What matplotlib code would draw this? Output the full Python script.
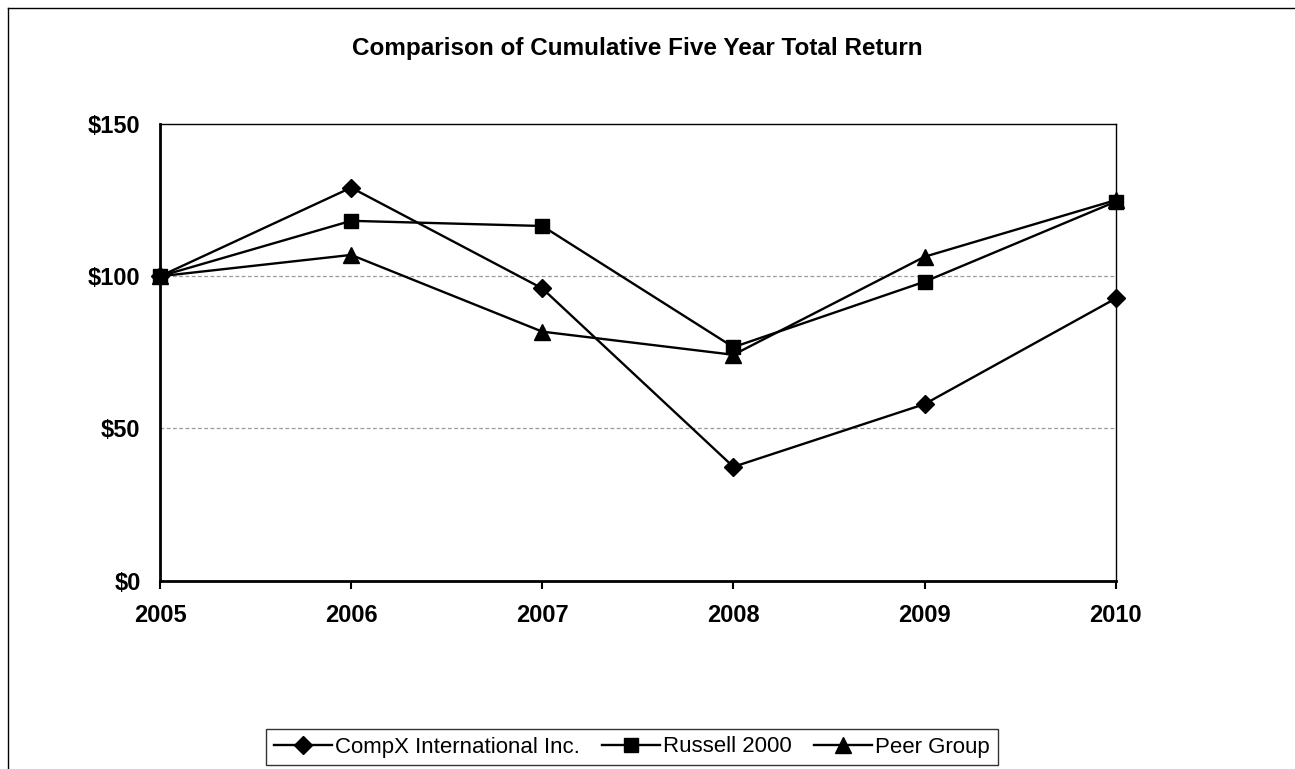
import matplotlib
matplotlib.use("Agg")
import matplotlib.pyplot as plt
from matplotlib.lines import Line2D

plt.rcParams["font.family"] = ["Liberation Sans", "DejaVu Sans"]

years = [2005, 2006, 2007, 2008, 2009, 2010]
compx = [100, 129.1, 96.0, 37.4, 58.0, 92.7]
russell = [100, 118.2, 116.5, 76.7, 98.2, 124.5]
peer = [100, 107.0, 81.8, 74.2, 106.4, 125.0]
y_ticks = [0, 50, 100, 150]
y_labels = ["$0", "$50", "$100", "$150"]

fig = plt.figure(figsize=(12.95, 7.69), dpi=100)
ax = fig.add_axes([160 / 1295, 1 - 580.7 / 769, (1115.7 - 160) / 1295, (580.7 - 124) / 769])

style = dict(color="black", lw=1.7, clip_on=False, zorder=3)
ax.plot(years, compx, marker="D", markersize=9, label="CompX International Inc.", **style)
ax.plot(years, russell, marker="s", markersize=10, label="Russell 2000", **style)
ax.plot(years, peer, marker="^", markersize=11, label="Peer Group", **style)

ax.set_xlim(years[0], years[-1])
ax.set_ylim(0, 150)
ax.set_xticks(years)
ax.set_xticklabels([str(y) for y in years], fontsize=17, fontweight="bold")
ax.set_yticks(y_ticks)
ax.set_yticklabels(y_labels, fontsize=17, fontweight="bold")
ax.tick_params(axis="x", length=6, width=1.5, direction="out", pad=11)
ax.tick_params(axis="y", length=0, pad=14)

for v in (50, 100):
    ax.axhline(v, color="#999999", lw=0.9, ls=(0, (3, 2)), zorder=1)

for side in ("left", "bottom"):
    ax.spines[side].set_linewidth(2)
for side in ("top", "right"):
    ax.spines[side].set_linewidth(1)

fig.text(637 / 1295, 1 - 48 / 769, "Comparison of Cumulative Five Year Total Return",
         ha="center", va="center", fontsize=17.5, fontweight="bold")

# outer frame (left and top edges visible in the scan)
fig.add_artist(Line2D([8 / 1295, 8 / 1295], [0, 1 - 8 / 769], color="black", lw=1))
fig.add_artist(Line2D([8 / 1295, 1], [1 - 8 / 769, 1 - 8 / 769], color="black", lw=1))

leg = fig.legend(loc="center", bbox_to_anchor=(632 / 1295, 1 - 747 / 769), ncol=3,
                 fontsize=16, frameon=True, fancybox=False, edgecolor="black",
                 handlelength=2.6, handletextpad=0.15, columnspacing=1.0,
                 borderpad=0.35, borderaxespad=0)
leg.get_frame().set_linewidth(1)

fig.savefig("out.png", dpi=100)
